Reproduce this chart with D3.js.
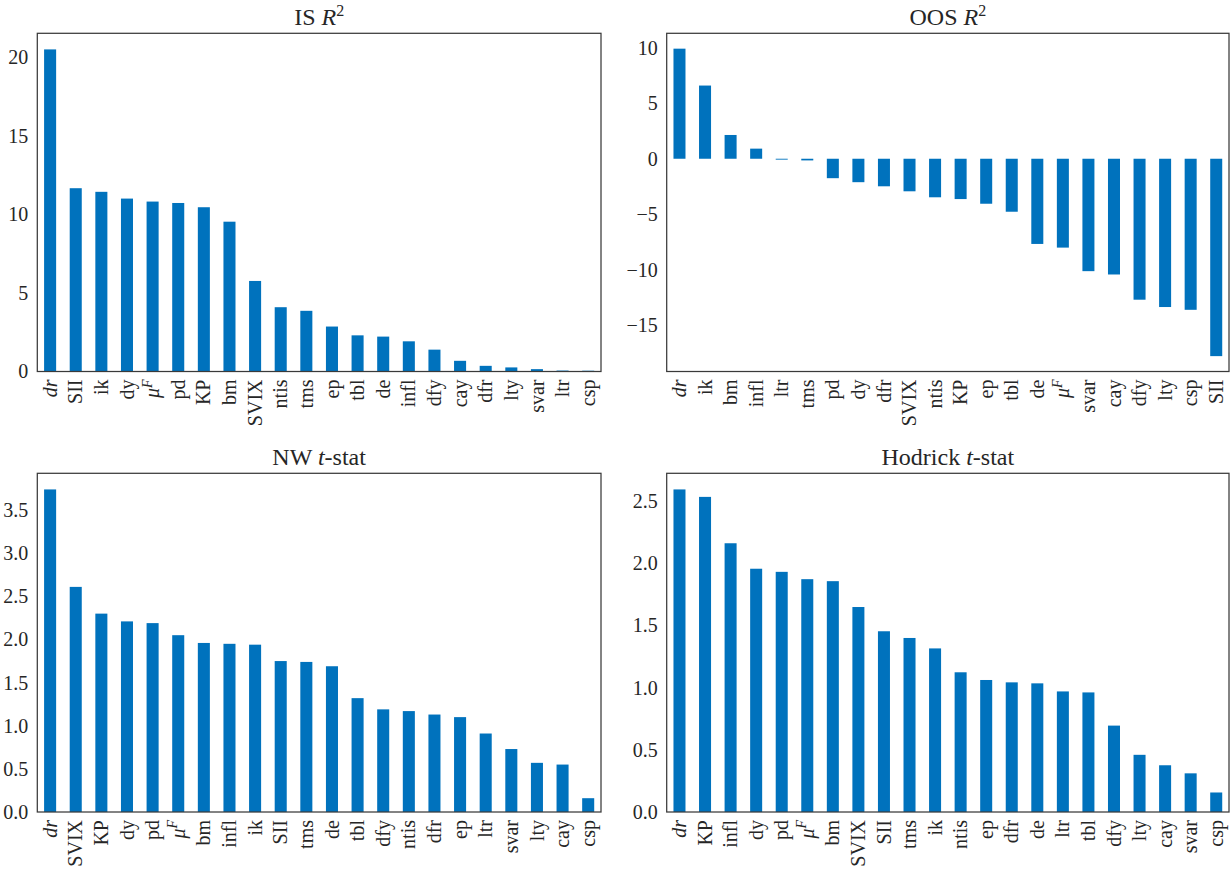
<!DOCTYPE html>
<html><head><meta charset="utf-8">
<script src="https://cdn.jsdelivr.net/npm/d3@7"></script>
<style>
body{margin:0;background:#fff;}
text{font-family:"Liberation Serif","DejaVu Serif",serif;fill:#262626;}
</style></head>
<body><svg id="c" width="1231" height="871"></svg>
<script>
// ---- data ----
const isCats = ["dr","SII","ik","dy","muF","pd","KP","bm","SVIX","ntis","tms","ep","tbl","de","infl","dfy","cay","dfr","lty","svar","ltr","csp"];
const isVals = [20.49,11.66,11.43,11.0,10.81,10.72,10.45,9.53,5.76,4.09,3.86,2.86,2.30,2.22,1.92,1.39,0.68,0.36,0.26,0.15,0.06,0.05];
const isTicks = [0,5,10,15,20];

const oosCats = ["dr","ik","bm","infl","ltr","tms","pd","dy","dfr","SVIX","ntis","KP","ep","tbl","de","muF","svar","cay","dfy","lty","csp","SII"];
const oosVals = [9.91,6.59,2.14,0.91,-0.08,-0.15,-1.75,-2.11,-2.48,-2.93,-3.47,-3.63,-4.05,-4.77,-7.67,-8.0,-10.12,-10.42,-12.69,-13.35,-13.6,-17.77];
const oosTicks = [-15,-10,-5,0,5,10];

const nwCats = ["dr","SVIX","KP","dy","pd","muF","bm","infl","ik","SII","tms","de","tbl","dfy","ntis","dfr","ep","ltr","svar","lty","cay","csp"];
const nwVals = [3.74,2.61,2.30,2.21,2.19,2.05,1.96,1.95,1.94,1.75,1.74,1.69,1.32,1.19,1.17,1.13,1.10,0.91,0.73,0.57,0.55,0.16];
const nwTicks = [0,0.5,1,1.5,2,2.5,3,3.5];

const hoCats = ["dr","KP","infl","dy","pd","muF","bm","SVIX","SII","tms","ik","ntis","ep","dfr","de","ltr","tbl","dfy","lty","cay","svar","csp"];
const hoVals = [2.595,2.535,2.162,1.957,1.932,1.873,1.857,1.649,1.454,1.40,1.316,1.124,1.062,1.043,1.035,0.970,0.962,0.695,0.46,0.376,0.311,0.157];
const hoTicks = [0,0.5,1,1.5,2,2.5];

const svg = d3.select("#c");
const BAR = "#0072BD";

function addLabel(sel, key){
  if(key==="dr"){ sel.append("tspan").attr("font-style","italic").text("dr"); }
  else if(key==="muF"){
    sel.append("tspan").attr("font-style","italic").text("μ");
    sel.append("tspan").attr("font-style","italic").attr("font-size","14px").attr("dy","-0.55em").text("F");
  } else sel.text(key);
}

function panel(opts){
  const {x0,x1,y0,y1,cats,vals,ticks,fmt,title} = opts;
  const g = svg.append("g");
  const x = d3.scaleBand().domain(cats).range([x0,x1]).paddingInner(0).paddingOuter(0);
  const mn = d3.min(vals), mx = d3.max(vals);
  let lo, hi;
  if(mn>=0){ lo=0; hi = mx*1.05; } else { const r=mx-mn; lo=mn-0.05*r; hi=mx+0.05*r; }
  const y = d3.scaleLinear().domain([lo,hi]).range([y1,y0]);
  const bw = x.bandwidth()*0.47;
  g.selectAll("rect.bar").data(cats.map((c,i)=>({c,v:vals[i]}))).join("rect")
    .attr("class","bar")
    .attr("x",d=>x(d.c)+x.bandwidth()/2-bw/2)
    .attr("width",bw)
    .attr("y",d=>Math.min(y(d.v),y(0)))
    .attr("height",d=>Math.max(0.8,Math.abs(y(d.v)-y(0))))
    .attr("fill",BAR);
  // y axis
  const ya = g.append("g").attr("transform",`translate(${x0},0)`)
    .call(d3.axisLeft(y).tickValues(ticks).tickSize(0).tickPadding(9).tickFormat(d=>fmt(d).replace("-","−")));
  ya.select(".domain").remove();
  ya.selectAll("text").attr("font-size","20px").attr("fill","#262626");
  // x axis
  const xa = g.append("g").attr("transform",`translate(0,${y1})`)
    .call(d3.axisBottom(x).tickSize(0).tickFormat(""));
  xa.select(".domain").remove();
  xa.selectAll(".tick").each(function(d){
    const t = d3.select(this).append("text")
      .attr("transform","rotate(-90)")
      .attr("x",-8).attr("y",0)
      .attr("dy","0.33em")
      .attr("text-anchor","end")
      .attr("font-size","20px")
      .attr("fill","#262626");
    addLabel(t,d);
  });
  // frame
  g.append("rect").attr("x",x0).attr("y",y0).attr("width",x1-x0).attr("height",y1-y0)
    .attr("fill","none").attr("stroke","#3a3a3a").attr("stroke-width",1.25);
  // title
  const tt = g.append("text").attr("x",(x0+x1)/2).attr("y",y0-8)
    .attr("text-anchor","middle").attr("font-size","24px");
  title(tt);
}

const f0 = d3.format("d"), f1 = d3.format(".1f");
panel({x0:37.3,x1:601,y0:33.3,y1:371.5,cats:isCats,vals:isVals,ticks:isTicks,fmt:f0,
  title:t=>{t.append("tspan").text("IS ");t.append("tspan").attr("font-style","italic").text("R");
            t.append("tspan").attr("font-size","16px").attr("dy","-0.6em").text("2");}});
panel({x0:666.7,x1:1229,y0:33.3,y1:371.5,cats:oosCats,vals:oosVals,ticks:oosTicks,fmt:f0,
  title:t=>{t.append("tspan").text("OOS ");t.append("tspan").attr("font-style","italic").text("R");
            t.append("tspan").attr("font-size","16px").attr("dy","-0.6em").text("2");}});
panel({x0:37.3,x1:601,y0:473.3,y1:812,cats:nwCats,vals:nwVals,ticks:nwTicks,fmt:f1,
  title:t=>{t.append("tspan").text("NW ");t.append("tspan").attr("font-style","italic").text("t");
            t.append("tspan").text("-stat");}});
panel({x0:666.7,x1:1229,y0:473.3,y1:812,cats:hoCats,vals:hoVals,ticks:hoTicks,fmt:f1,
  title:t=>{t.append("tspan").text("Hodrick ");t.append("tspan").attr("font-style","italic").text("t");
            t.append("tspan").text("-stat");}});
</script></body></html>
